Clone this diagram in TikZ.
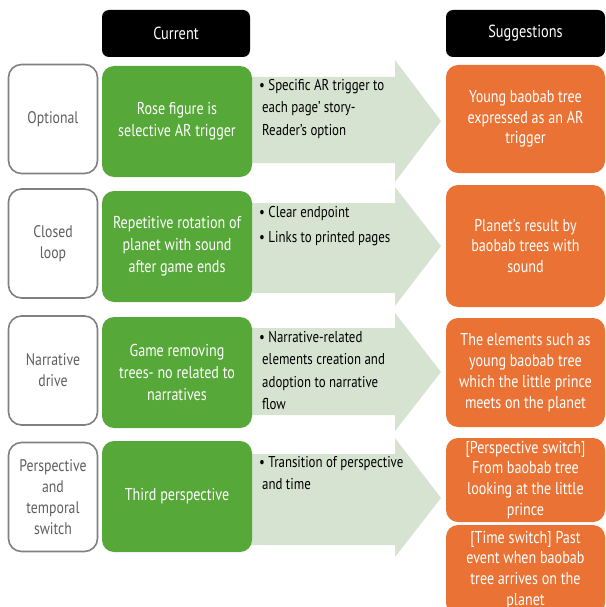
\documentclass[tikz,border=0pt]{standalone}
\usepackage{fontspec}
\setmainfont[FakeStretch=0.82]{PT Sans}
\usepackage{xcolor}

\definecolor{leafgreen}{RGB}{86,168,56}
\definecolor{sugorange}{RGB}{234,114,52}
\definecolor{arrowfill}{RGB}{214,227,209}
\definecolor{framegray}{RGB}{128,128,128}
\definecolor{labelgray}{RGB}{95,95,95}

\begin{document}
\begin{tikzpicture}[x=1pt,y=-1pt,
	head/.style={fill=black,text=white,rounded corners=7pt,minimum height=47pt,
		font=\fontsize{17.5}{20}\selectfont},
	aspect/.style={draw=framegray,line width=1.6pt,fill=white,rounded corners=13pt,
		minimum width=89pt,minimum height=109pt,text=labelgray,align=center,
		font=\fontsize{16.8}{21}\selectfont},
	current/.style={fill=leafgreen,text=white,rounded corners=12pt,
		minimum width=150pt,minimum height=111pt,align=center,
		font=\fontsize{17.2}{22}\selectfont},
	suggest/.style={fill=sugorange,text=white,rounded corners=12pt,inner sep=0pt,
		minimum width=159pt,align=center,font=\fontsize{17.2}{20.8}\selectfont},
	change/.style={fill=arrowfill},
	changetext/.style={anchor=north west,inner sep=0pt,align=left,
		font=\fontsize{15.7}{22.5}\selectfont}]
	\useasboundingbox (0,0) rectangle (605,607);

	% headers
	\node[head,minimum width=148pt] (hdcur) at (176,33.5) {Current};
	\node[head,minimum width=159pt] (hdsug) at (525.5,33.5) {Suggestions};

	% arrows
	\fill[change] (250,77) -- (395,77) -- (395,60) -- (441,121) -- (395,182) -- (395,163) -- (250,163) -- cycle;
	\fill[change] (250,203) -- (395,203) -- (395,187) -- (441,246) -- (395,306) -- (395,293) -- (250,293) -- cycle;
	\fill[change] (250,328) -- (395,328) -- (395,313) -- (441,372) -- (395,431) -- (395,415) -- (250,415) -- cycle;
	\fill[change] (250,454) -- (395,454) -- (395,438) -- (441,498) -- (395,557) -- (395,545) -- (250,545) -- cycle;

	% left labels
	\node[aspect] (optional) at (53,119) {Optional};
	\node[aspect] (closed) at (53,243.5) {Closed\\loop};
	\node[aspect] (drive) at (53,370.5) {Narrative\\drive};
	\node[aspect] (switch) at (53,497) {Perspective\\and\\temporal\\switch};

	% current state
	\node[current] (cur1) at (177,121.5) {Rose figure is\\selective AR trigger};
	\node[current] (cur2) at (177,246.5) {Repetitive rotation of\\planet with sound\\after game ends};
	\node[current] (cur3) at (177,372.5) {Game removing\\trees- no related to\\narratives};
	\node[current] (cur4) at (177,496.5) {Third perspective};

	% changes
	\node[changetext] (chg1) at (259,79) {\textbullet\ Specific AR trigger to\\\hspace{3pt}each page’ story-\\\hspace{3pt}Reader’s option};
	\node[changetext] (chg2) at (259,206) {\textbullet\ Clear endpoint\\[3pt]\textbullet\ Links to printed pages};
	\node[changetext] (chg3) at (259,331) {\textbullet\ Narrative-related\\\hspace{3pt}elements creation and\\\hspace{3pt}adoption to narrative\\\hspace{3pt}flow};
	\node[changetext] (chg4) at (259,456) {\textbullet\ Transition of perspective\\\hspace{3pt}and time};

	% suggestions
	\node[suggest,minimum height=108pt] (sug1) at (525.5,119) {Young baobab tree\\expressed as an AR\\trigger};
	\node[suggest,minimum height=122pt] (sug2) at (525.5,246) {Planet’s result by\\baobab trees with\\sound};
	\node[suggest,minimum height=109pt] (sug3) at (525.5,372.5) {The elements such as\\young baobab tree\\which the little prince\\meets on the planet};
	\node[suggest,minimum height=84pt] (sug4) at (525.5,480) {[Perspective switch]\\From baobab tree\\looking at the little\\prince};
	\node[suggest,minimum height=90pt] (sug5) at (525.5,570) {[Time switch] Past\\event when baobab\\tree arrives on the\\planet};
\end{tikzpicture}
\end{document}
